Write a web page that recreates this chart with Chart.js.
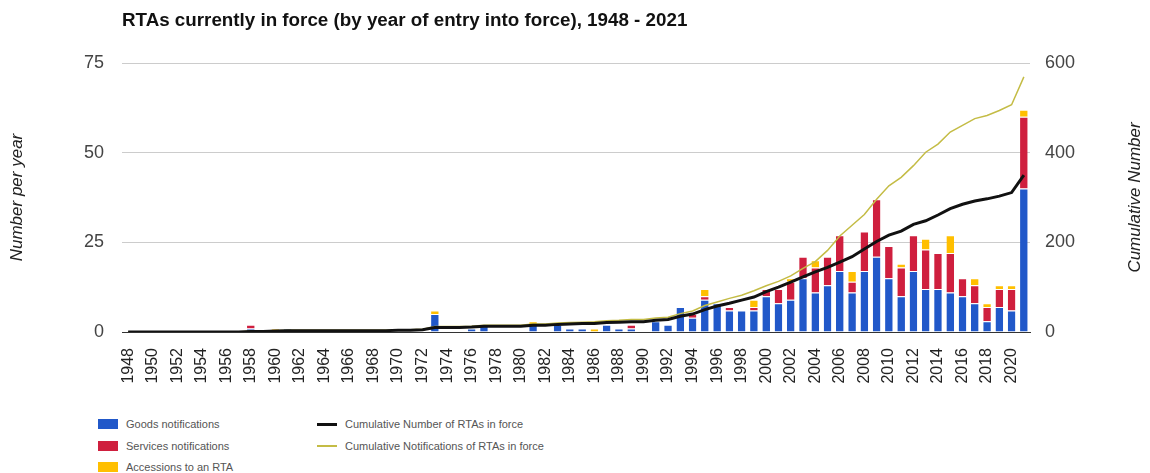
<!DOCTYPE html>
<html lang="en">
<head>
<meta charset="UTF-8" />
<title>RTAs currently in force</title>
<style>
  body {
    margin: 0;
    padding: 0;
    background: #fff;
    font-family: 'Liberation Sans', Arial, sans-serif;
  }
  #wrap {
    position: relative;
    width: 1150px;
    height: 473px;
  }
  #title {
    position: absolute;
    left: 122px;
    top: 9px;
    font-size: 18.8px;
    font-weight: bold;
    color: #111;
    line-height: 22px;
    white-space: nowrap;
  }
  #chart-box {
    position: absolute;
    left: 0;
    top: 0;
    width: 1150px;
    height: 400px;
  }
  .leg {
    position: absolute;
    font-size: 11px;
    color: #555;
    line-height: 14px;
    white-space: nowrap;
  }
  .sw {
    position: absolute;
  }
</style>
</head>
<body>
<div id="wrap">
  <div id="chart-box">
    <canvas id="rtaChart" width="1150" height="400"></canvas>
  </div>
  <div id="title">RTAs currently in force (by year of entry into force), 1948 - 2021</div>
  <div id="legend"></div>
</div>

<script src="https://cdn.jsdelivr.net/npm/chart.js"></script>
<script>
// years 1948 - 2021
const years = [];
for (let y = 1948; y <= 2021; y++) years.push(String(y));

// bars (number per year)
const goods = [
  0,0,0,0,0,0,0,0,0,0,          // 1948-1957
  1,0,0,1,0,0,0,0,0,0,          // 1958-1967
  0,0,0,0,0,5,0,0,1,2,          // 1968-1977
  0,0,0,2,0,2,1,1,0,2,          // 1978-1987
  1,1,0,3,2,7,4,9,8,6,          // 1988-1997
  6,6,10,8,9,15,11,13,17,11,    // 1998-2007
  17,21,15,10,17,12,12,11,10,8, // 2008-2017
  3,7,6,40                      // 2018-2021
];
const services = [
  0,0,0,0,0,0,0,0,0,0,
  1,0,0,0,0,0,0,0,0,0,
  0,0,0,0,0,0,0,0,0,0,
  0,0,0,0,0,0,0,0,0,0,
  0,1,0,0,0,0,1,1,0,1,
  0,1,2,4,5,6,7,8,10,3,
  11,16,9,8,10,11,10,11,5,5,
  4,5,6,20
];
const accessions = [
  0,0,0,0,0,0,0,0,0,0,
  0,0,1,0,0,0,0,0,0,0,
  0,0,0,0,0,1,0,0,0,0,
  0,0,0,1,0,0,0,0,1,0,
  0,0,0,0,0,0,0,2,0,0,
  0,2,0,0,1,0,2,0,0,3,
  0,0,0,1,0,3,0,5,0,2,
  1,1,1,2
];

// cumulative lines (right axis)
const cumNumber = [
  0,0,0,0,0,0,0,0,0,0,
  1,1,2,3,3,3,3,3,3,3,
  3,3,4,4,5,10,10,10,11,13,
  13,13,13,15,15,17,18,19,19,21,
  22,23,23,26,28,35,40,50,58,64,
  71,78,90,100,111,123,134,144,156,168,
  185,202,216,225,240,248,261,275,285,292,
  297,303,311,350
];
const cumNotifications = [
  0,0,0,0,0,0,0,0,0,0,
  2,2,3,4,4,4,4,4,4,4,
  4,4,5,5,6,12,12,12,13,15,
  15,15,15,18,18,20,21,22,23,25,
  26,28,28,31,33,41,47,59,67,75,
  82,92,103,113,125,142,157,182,214,238,
  262,296,326,345,371,401,419,446,461,476,
  483,494,507,569
];

const font = "'Liberation Sans', Arial, sans-serif";

// legend (html, laid out like the original two columns)
const legendItems = [
  { text: 'Goods notifications', color: '#2158c9', kind: 'box', x: 98, y: 424 },
  { text: 'Services notifications', color: '#cf1f3e', kind: 'box', x: 98, y: 446 },
  { text: 'Accessions to an RTA', color: '#ffbf00', kind: 'box', x: 98, y: 467 },
  { text: 'Cumulative Number of RTAs in force', color: '#111', kind: 'line', x: 317, y: 424 },
  { text: 'Cumulative Notifications of RTAs in force', color: '#c4bc45', kind: 'line', x: 317, y: 446 }
];
const legendEl = document.getElementById('legend');
legendItems.forEach(it => {
  const sw = document.createElement('div');
  sw.className = 'sw';
  sw.style.background = it.color;
  sw.style.left = it.x + 'px';
  sw.style.width = '20px';
  if (it.kind === 'box') {
    sw.style.top = (it.y - 5) + 'px';
    sw.style.height = '10px';
  } else {
    const h = it.color === '#111' ? 3 : 2;
    sw.style.top = (it.y - Math.floor(h / 2)) + 'px';
    sw.style.height = h + 'px';
  }
  legendEl.appendChild(sw);
  const t = document.createElement('div');
  t.className = 'leg';
  t.textContent = it.text;
  t.style.left = (it.x + 28) + 'px';
  t.style.top = (it.y - 7) + 'px';
  legendEl.appendChild(t);
});

// rotated axis titles, both reading bottom to top
const axisTitles = {
  id: 'axisTitles',
  afterDraw(chart) {
    const c = chart.ctx;
    const mid = (chart.chartArea.top + chart.chartArea.bottom) / 2;
    c.save();
    c.fillStyle = '#222';
    c.font = "italic 17px " + font;
    c.textAlign = 'center';
    c.textBaseline = 'middle';
    [[17, 'Number per year'], [1135, 'Cumulative Number']].forEach(([x, txt]) => {
      c.save();
      c.translate(x, mid);
      c.rotate(-Math.PI / 2);
      c.fillText(txt, 0, 0);
      c.restore();
    });
    c.restore();
  }
};

const barCommon = {
  type: 'bar',
  yAxisID: 'y',
  stack: 'rta',
  order: 2,
  barPercentage: 0.62,
  categoryPercentage: 1.0,
  borderColor: '#ffffff',
  borderWidth: { top: 1, left: 0, right: 0, bottom: 0 },
  borderSkipped: false
};

new Chart(document.getElementById('rtaChart').getContext('2d'), {
  data: {
    labels: years,
    datasets: [
      Object.assign({}, barCommon, { label: 'Goods notifications', data: goods, backgroundColor: '#2158c9' }),
      Object.assign({}, barCommon, { label: 'Services notifications', data: services, backgroundColor: '#cf1f3e' }),
      Object.assign({}, barCommon, { label: 'Accessions to an RTA', data: accessions, backgroundColor: '#ffbf00' }),
      {
        type: 'line',
        label: 'Cumulative Number of RTAs in force',
        data: cumNumber,
        yAxisID: 'y1',
        order: 0,
        borderColor: '#111',
        borderWidth: 3,
        pointRadius: 0,
        tension: 0,
        fill: false
      },
      {
        type: 'line',
        label: 'Cumulative Notifications of RTAs in force',
        data: cumNotifications,
        yAxisID: 'y1',
        order: 1,
        borderColor: '#c4bc45',
        borderWidth: 1.5,
        pointRadius: 0,
        tension: 0,
        fill: false
      }
    ]
  },
  options: {
    responsive: false,
    animation: false,
    layout: { padding: { top: 63, left: 0, right: 0, bottom: 0 } },
    plugins: {
      legend: { display: false },
      tooltip: { enabled: false },
      title: { display: false }
    },
    scales: {
      x: {
        stacked: true,
        grid: { display: false, drawTicks: false },
        border: { display: true, color: '#333', width: 1 },
        ticks: {
          autoSkip: false,
          maxRotation: 90,
          minRotation: 90,
          padding: 16,
          color: '#222',
          font: { family: font, size: 16 },
          callback: (v, i) => (i % 2 === 0 ? years[i] : '')
        },
        afterFit: s => { s.height = 68; }
      },
      y: {
        stacked: true,
        position: 'left',
        min: 0,
        max: 75,
        grid: {
          drawTicks: false,
          color: c => (c.tick && c.tick.value === 0 ? '#333' : '#cccccc'),
          lineWidth: 1
        },
        border: { display: false },
        ticks: {
          stepSize: 25,
          padding: 18,
          color: '#444',
          font: { family: font, size: 18 }
        },
        afterFit: s => { s.width = 122; }
      },
      y1: {
        position: 'right',
        min: 0,
        max: 600,
        grid: { display: false, drawTicks: false },
        border: { display: false },
        ticks: {
          stepSize: 200,
          padding: 15,
          color: '#444',
          font: { family: font, size: 18 }
        },
        afterFit: s => { s.width = 120; }
      }
    }
  },
  plugins: [axisTitles]
});
</script>
</body>
</html>
